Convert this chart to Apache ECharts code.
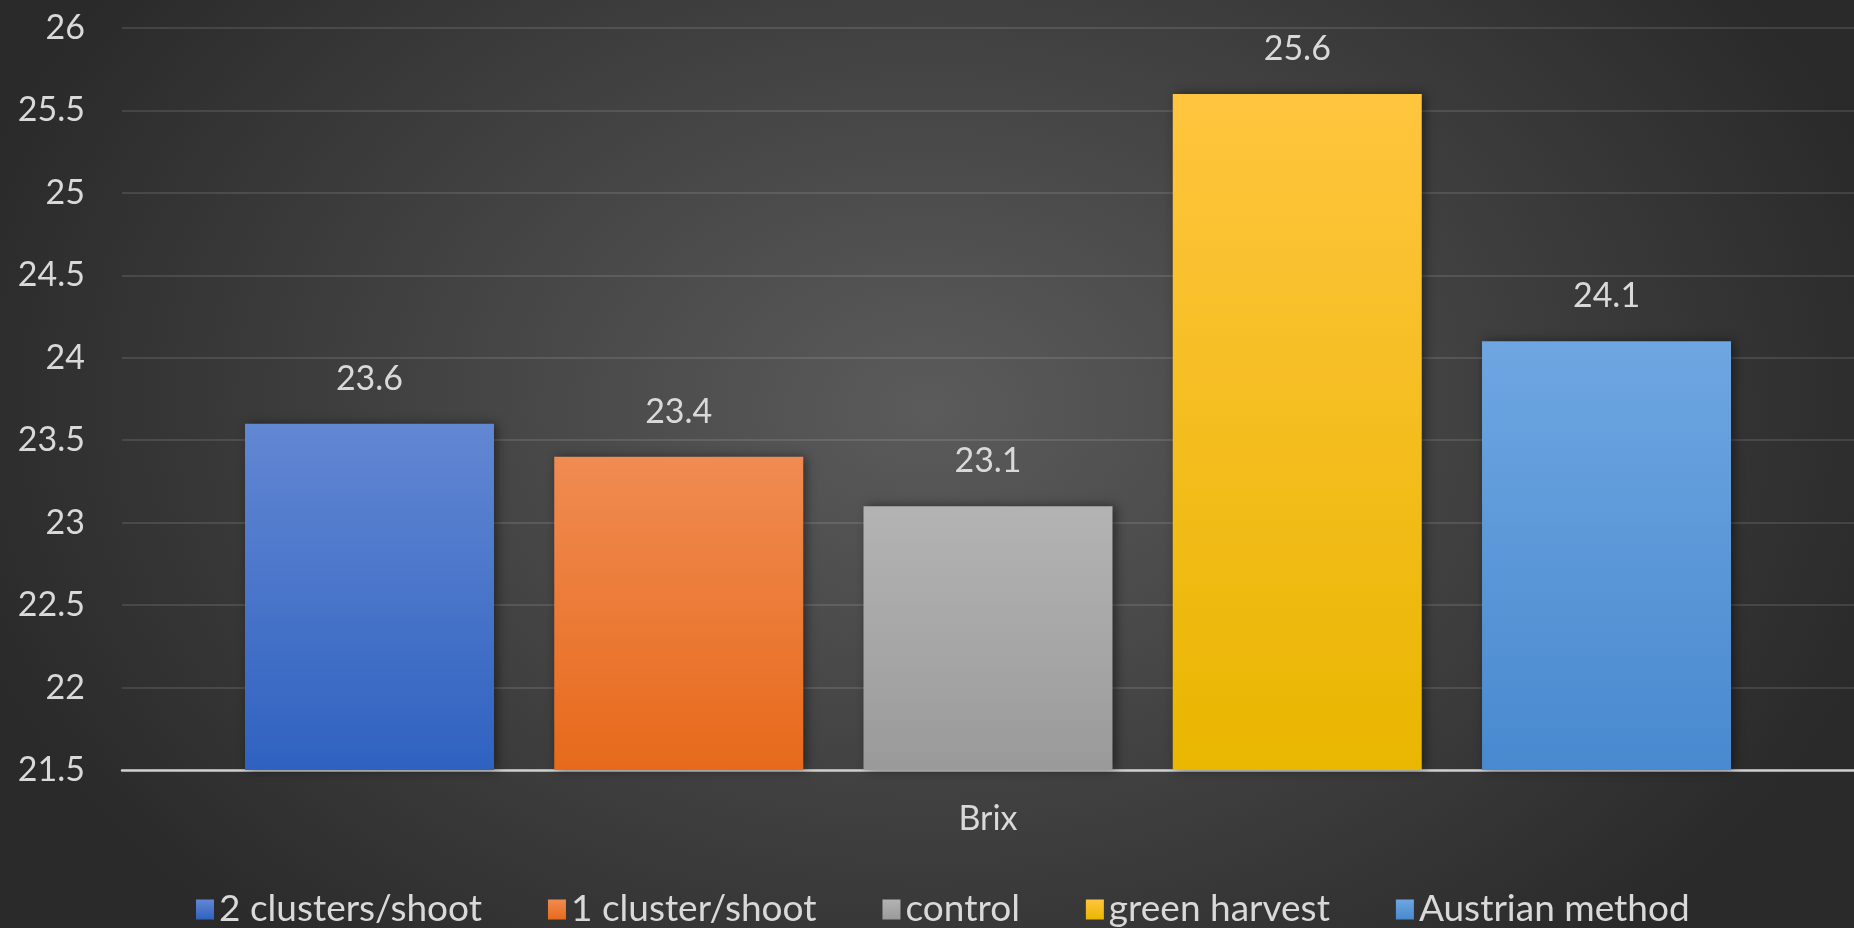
<!DOCTYPE html>
<html>
<head>
<meta charset="utf-8">
<title>Brix</title>
<script src="https://cdn.jsdelivr.net/npm/echarts@6/dist/echarts.min.js"></script>
<style>
  html, body { margin: 0; padding: 0; }
  #chart {
    width: 1854px;
    height: 928px;
    background: radial-gradient(ellipse 1000px 720px at 50% 44%, #5b5b5b 0%, #4a4a4a 35%, #2a2a2a 100%);
  }
</style>
</head>
<body>
<div id="chart"></div>
<script>
// Sugar content at harvest for each thinning treatment
const categories = ['Brix'];
const seriesNames = ['2 clusters/shoot', '1 cluster/shoot', 'control', 'green harvest', 'Austrian method'];
const brixValues = [23.6, 23.4, 23.1, 25.6, 24.1];

// legend swatch colours and the top/bottom shades of each bar
const baseColors = ['#4472c4', '#ed7d31', '#a5a5a5', '#ffc000', '#5b9bd5'];
const topShades = ['#6287d3', '#f08b52', '#b3b3b3', '#ffc53e', '#6ea6e1'];
const bottomShades = ['#2f62c0', '#e76a1b', '#9a9a9a', '#e9b600', '#4889cf'];

const FONT = 'Lato';
const TEXT = '#d9d9d9';

const chart = echarts.init(document.getElementById('chart'), null, { renderer: 'canvas' });

const series = seriesNames.map((name, i) => ({
  name: name,
  type: 'bar',
  data: [brixValues[i]],
  barWidth: 249,
  barGap: '24.2%',
  color: baseColors[i],
  itemStyle: {
    color: new echarts.graphic.LinearGradient(0, 0, 0, 1, [
      { offset: 0, color: topShades[i] },
      { offset: 1, color: bottomShades[i] }
    ]),
    shadowColor: 'rgba(0,0,0,0.45)',
    shadowBlur: 10,
    shadowOffsetX: 3,
    shadowOffsetY: 0
  },
  label: {
    show: true,
    position: 'top',
    distance: 28,
    color: TEXT,
    fontFamily: FONT,
    fontSize: 34
  },
  emphasis: { disabled: true }
}));

chart.setOption({
  backgroundColor: 'transparent',
  animation: false,
  grid: {
    left: 122,
    right: 0,
    top: 28,
    bottom: 158,
    containLabel: false,
    outerBoundsMode: 'none'
  },
  legend: {
    data: seriesNames,
    left: 191,
    top: 886,
    itemWidth: 18,
    itemHeight: 20,
    itemGap: 66,
    icon: 'rect',
    textStyle: { color: TEXT, fontFamily: FONT, fontSize: 37 }
  },
  xAxis: {
    type: 'category',
    data: categories,
    axisTick: { show: false },
    axisLine: { show: true, lineStyle: { color: '#d0d0d0', width: 2.5 } },
    axisLabel: { color: TEXT, fontFamily: FONT, fontSize: 34, margin: 32 }
  },
  yAxis: {
    type: 'value',
    min: 21.5,
    max: 26,
    interval: 0.5,
    axisLine: { show: false },
    axisTick: { show: false },
    splitLine: { lineStyle: { color: 'rgba(255,255,255,0.11)', width: 2 } },
    axisLabel: { color: TEXT, fontFamily: FONT, fontSize: 34, margin: 37 }
  },
  series: series
});
</script>
</body>
</html>
